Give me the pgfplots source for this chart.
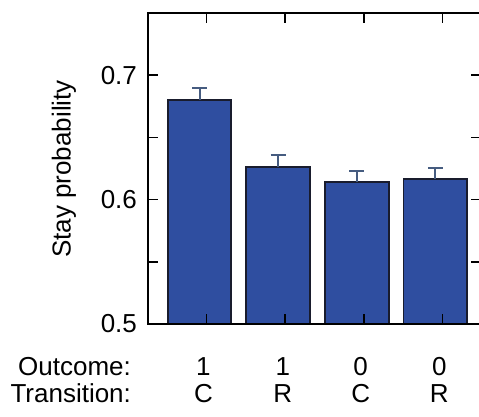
\documentclass[border=0pt]{standalone}
\usepackage{pgfplots}
\pgfplotsset{compat=1.18}
\usepackage{fontspec}
\setmainfont{Liberation Sans}

\definecolor{barblue}{RGB}{47,78,160}
\definecolor{baredge}{RGB}{25,28,45}
\definecolor{errblue}{RGB}{70,92,128}

\begin{document}
\begin{tikzpicture}
\begin{axis}[
  at={(74pt,46.5pt)}, anchor=south west,
  scale only axis,
  width=166.5pt, height=155.5pt,
  xmin=0.345, xmax=4.58,
  ymin=0.5, ymax=0.75,
  axis on top,
  clip=false,
  axis line style={line width=1pt, black},
  xtick=\empty,
  ytick={0.5,0.6,0.7},
  yticklabels={0.5,0.6,0.7},
  minor ytick={0.55,0.65},
  tick align=inside,
  major tick length=5pt,
  minor tick length=5pt,
  tick style={draw=black, line width=0.8pt},
  ticklabel style={font=\fontsize{13}{15}\selectfont},
  /pgf/number format/assume math mode=true,
  yticklabel style={xshift=-2pt},
]
\addplot[
  ybar, bar width=0.81,
  fill=barblue, draw=baredge, line width=0.9pt,
  error bars/.cd,
    y dir=plus, y explicit,
    error bar style={line width=1pt, errblue},
    error mark options={line width=1pt, errblue, mark size=3.75pt, rotate=90},
] table[x=x, y=y, y error=e] {
x y e
1 0.680 0.0100
2 0.626 0.0095
3 0.614 0.0087
4 0.6165 0.0087
};
% inward x ticks on the bottom and top edges
\pgfplotsinvokeforeach{1.09,2.09,3.09,4.09}{
  \draw[line width=0.8pt, black] (axis cs:#1,0.5) -- ++(0pt,5pt);
  \draw[line width=0.8pt, black] (axis cs:#1,0.75) -- ++(0pt,-5pt);
}
% category labels under each bar
\foreach \xx/\oo/\tt in {1.05/1/C, 2.06/1/R, 3.05/0/C, 4.05/0/R} {
  \edef\doit{\noexpand\node[anchor=base, font=\noexpand\fontsize{13}{15}\noexpand\selectfont]
    at ([yshift=-26pt]axis cs:\xx,0.5) {\oo};
  \noexpand\node[anchor=base, font=\noexpand\fontsize{13}{15}\noexpand\selectfont]
    at ([yshift=-39.5pt]axis cs:\xx,0.5) {\tt};}
  \doit
}
\end{axis}
\node[anchor=base east, font=\fontsize{13}{15}\selectfont] at (69pt,20.5pt) {Outcome:};
\node[anchor=base east, font=\fontsize{13}{15}\selectfont] at (69pt,7pt) {Transition:};
\node[rotate=90, font=\fontsize{13}{15}\selectfont] at (32pt,124pt) {Stay probability};
\pgfresetboundingbox
\useasboundingbox (0pt,0pt) rectangle (239.5pt,208.5pt);
\end{tikzpicture}
\end{document}
